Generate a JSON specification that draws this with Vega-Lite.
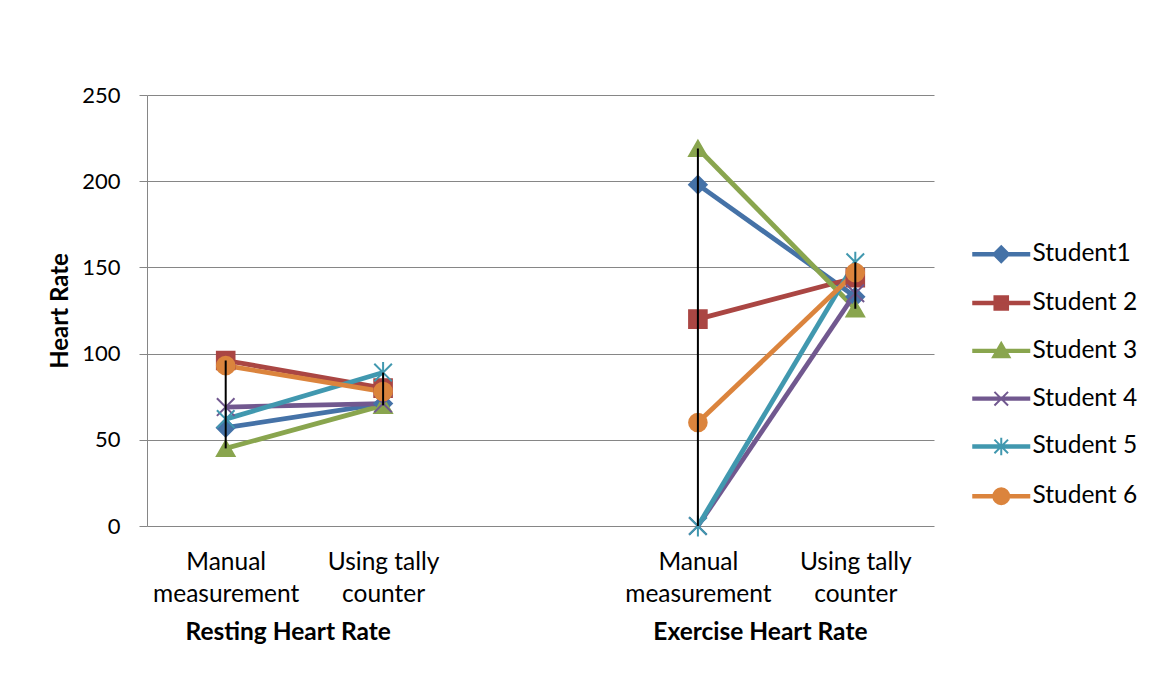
{
  "$schema": "https://vega.github.io/schema/vega-lite/v6.json",
  "width": 787,
  "height": 431,
  "autosize": {"type": "none"},
  "padding": {"left": 147, "top": 95, "right": 224, "bottom": 154},
  "background": "white",
  "config": {
    "font": "Lato",
    "view": {"stroke": null},
    "axis": {"labelColor": "black", "titleColor": "black"}
  },
  "data": {
    "values": [
      {"student": "Student1", "phase": "Resting", "cat": "Resting: Manual measurement", "value": 57},
      {"student": "Student1", "phase": "Resting", "cat": "Resting: Using tally counter", "value": 71},
      {"student": "Student1", "phase": "Exercise", "cat": "Exercise: Manual measurement", "value": 198},
      {"student": "Student1", "phase": "Exercise", "cat": "Exercise: Using tally counter", "value": 133},
      {"student": "Student 2", "phase": "Resting", "cat": "Resting: Manual measurement", "value": 96},
      {"student": "Student 2", "phase": "Resting", "cat": "Resting: Using tally counter", "value": 80},
      {"student": "Student 2", "phase": "Exercise", "cat": "Exercise: Manual measurement", "value": 120},
      {"student": "Student 2", "phase": "Exercise", "cat": "Exercise: Using tally counter", "value": 144},
      {"student": "Student 3", "phase": "Resting", "cat": "Resting: Manual measurement", "value": 45},
      {"student": "Student 3", "phase": "Resting", "cat": "Resting: Using tally counter", "value": 70},
      {"student": "Student 3", "phase": "Exercise", "cat": "Exercise: Manual measurement", "value": 219},
      {"student": "Student 3", "phase": "Exercise", "cat": "Exercise: Using tally counter", "value": 126},
      {"student": "Student 4", "phase": "Resting", "cat": "Resting: Manual measurement", "value": 69},
      {"student": "Student 4", "phase": "Resting", "cat": "Resting: Using tally counter", "value": 71},
      {"student": "Student 4", "phase": "Exercise", "cat": "Exercise: Manual measurement", "value": 0},
      {"student": "Student 4", "phase": "Exercise", "cat": "Exercise: Using tally counter", "value": 135},
      {"student": "Student 5", "phase": "Resting", "cat": "Resting: Manual measurement", "value": 62},
      {"student": "Student 5", "phase": "Resting", "cat": "Resting: Using tally counter", "value": 89},
      {"student": "Student 5", "phase": "Exercise", "cat": "Exercise: Manual measurement", "value": 0},
      {"student": "Student 5", "phase": "Exercise", "cat": "Exercise: Using tally counter", "value": 153},
      {"student": "Student 6", "phase": "Resting", "cat": "Resting: Manual measurement", "value": 93},
      {"student": "Student 6", "phase": "Resting", "cat": "Resting: Using tally counter", "value": 78},
      {"student": "Student 6", "phase": "Exercise", "cat": "Exercise: Manual measurement", "value": 60},
      {"student": "Student 6", "phase": "Exercise", "cat": "Exercise: Using tally counter", "value": 147}
    ]
  },
  "layer": [
    {
      "mark": {"type": "line", "strokeWidth": 4.8},
      "encoding": {
        "x": {
          "field": "cat", "type": "ordinal",
          "scale": {"type": "point", "padding": 0.5, "domain": ["Resting: Manual measurement", "Resting: Using tally counter", " ", "Exercise: Manual measurement", "Exercise: Using tally counter"]},
          "axis": {
            "title": null, "orient": "bottom", "grid": false, "ticks": false, "domain": false,
            "labelAngle": 0, "labelFontSize": 24.5, "labelPadding": 24, "labelLineHeight": 32,
            "labelBaseline": "top", "labelOverlap": false, "labelBound": false, "labelFlush": false, "labelLimit": 0,
            "labelExpr": "indexof(datum.value, 'Manual') >= 0 ? ['Manual', 'measurement'] : (indexof(datum.value, 'tally') >= 0 ? ['Using tally', 'counter'] : '')"
          }
        },
        "y": {
          "field": "value", "type": "quantitative", "title": "Heart Rate",
          "scale": {"domain": [0, 250], "nice": false, "zero": true},
          "axis": {
            "values": [0, 50, 100, 150, 200, 250],
            "grid": true, "gridColor": "#868686", "gridWidth": 1,
            "domainColor": "#868686", "tickColor": "#868686", "tickSize": 8,
            "labelFontSize": 22, "labelPadding": 19,
            "titleFontSize": 24, "titleFontWeight": "bold",
            "titleX": -87, "titleY": 215.5, "titleAngle": 270, "titleAlign": "center", "titleBaseline": "middle"
          }
        },
        "color": {
          "field": "student", "type": "nominal",
          "scale": {
            "domain": ["Student1", "Student 2", "Student 3", "Student 4", "Student 5", "Student 6"],
            "range": ["#4572A7", "#AA4643", "#89A54E", "#71588F", "#4198AF", "#DB843D"]
          },
          "legend": {
            "orient": "none", "legendX": 842, "legendY": 147, "title": null,
            "symbolSize": 256, "labelOffset": 19, "labelFontSize": 24.5, "labelColor": "black",
            "rowPadding": 22.8, "padding": 0, "symbolStrokeWidth": 2, "labelLimit": 0,
            "encode": {
              "symbols": {
                "update": {
                  "shape": {"signal": "datum.value === 'Student1' ? 'M-3.5,-0.15L3.5,-0.15L3.5,0.15L-3.5,0.15ZM-1,0L0,-1L1,0L0,1Z' : datum.value === 'Student 2' ? 'M-3.5,-0.15L3.5,-0.15L3.5,0.15L-3.5,0.15ZM-0.85,-0.85L0.85,-0.85L0.85,0.85L-0.85,0.85Z' : datum.value === 'Student 3' ? 'M-3.5,-0.15L3.5,-0.15L3.5,0.15L-3.5,0.15ZM0,-1L1.05,0.8L-1.05,0.8Z' : datum.value === 'Student 4' ? 'M-3.5,-0.15L3.5,-0.15L3.5,0.15L-3.5,0.15ZM-0.85,-0.85L0.85,0.85M-0.85,0.85L0.85,-0.85' : datum.value === 'Student 5' ? 'M-3.5,-0.15L3.5,-0.15L3.5,0.15L-3.5,0.15ZM-0.85,-0.85L0.85,0.85M-0.85,0.85L0.85,-0.85M0,-1.1L0,1.1' : 'M-3.5,-0.15L3.5,-0.15L3.5,0.15L-3.5,0.15ZM-1,0A1,1,0,1,1,1,0A1,1,0,1,1,-1,0Z'"},
                  "fill": {"signal": "scale('color', datum.value)"},
                  "stroke": {"signal": "scale('color', datum.value)"},
                  "strokeWidth": {"value": 2},
                  "opacity": {"value": 1}
                }
              }
            }
          }
        },
        "detail": {"field": "phase", "type": "nominal"}
      }
    },
    {
      "mark": {"type": "point", "filled": true, "opacity": 1, "strokeWidth": 2, "size": 310},
      "encoding": {
        "x": {"field": "cat", "type": "ordinal", "axis": null},
        "y": {"field": "value", "type": "quantitative", "title": "Heart Rate"},
        "color": {"field": "student", "type": "nominal"},
        "stroke": {
          "field": "student", "type": "nominal", "legend": null,
          "scale": {
            "domain": ["Student1", "Student 2", "Student 3", "Student 4", "Student 5", "Student 6"],
            "range": ["#4572A7", "#AA4643", "#89A54E", "#71588F", "#4198AF", "#DB843D"]
          }
        },
        "shape": {
          "field": "student", "type": "nominal", "legend": null,
          "scale": {
            "domain": ["Student 6", "Student 5", "Student 4", "Student 3", "Student 2", "Student1"],
            "range": ["circle", "M-1,-1L1,1M-1,1L1,-1M0,-1.2L0,1.2", "M-1,-1L1,1M-1,1L1,-1", "triangle-up", "square", "diamond"]
          }
        }
      }
    },
    {
      "mark": {"type": "rule", "color": "black", "strokeWidth": 2},
      "encoding": {
        "x": {
          "field": "cat", "type": "ordinal",
          "axis": {
            "title": null, "orient": "bottom", "grid": false, "ticks": false, "domain": false,
            "values": ["Resting: Manual measurement", "Exercise: Manual measurement"],
            "labelAngle": 0, "labelFontSize": 24.5, "labelFontWeight": "bold", "labelPadding": 94,
            "labelBaseline": "top", "labelOverlap": false, "labelBound": false, "labelFlush": false, "labelOffset": 62, "labelLimit": 0,
            "labelExpr": "indexof(datum.value, 'Resting') >= 0 ? 'Resting Heart Rate' : 'Exercise Heart Rate'"
          }
        },
        "y": {"field": "value", "aggregate": "min", "type": "quantitative", "title": "Heart Rate"},
        "y2": {"field": "value", "aggregate": "max"}
      }
    }
  ],
  "resolve": {"axis": {"x": "independent"}}
}
